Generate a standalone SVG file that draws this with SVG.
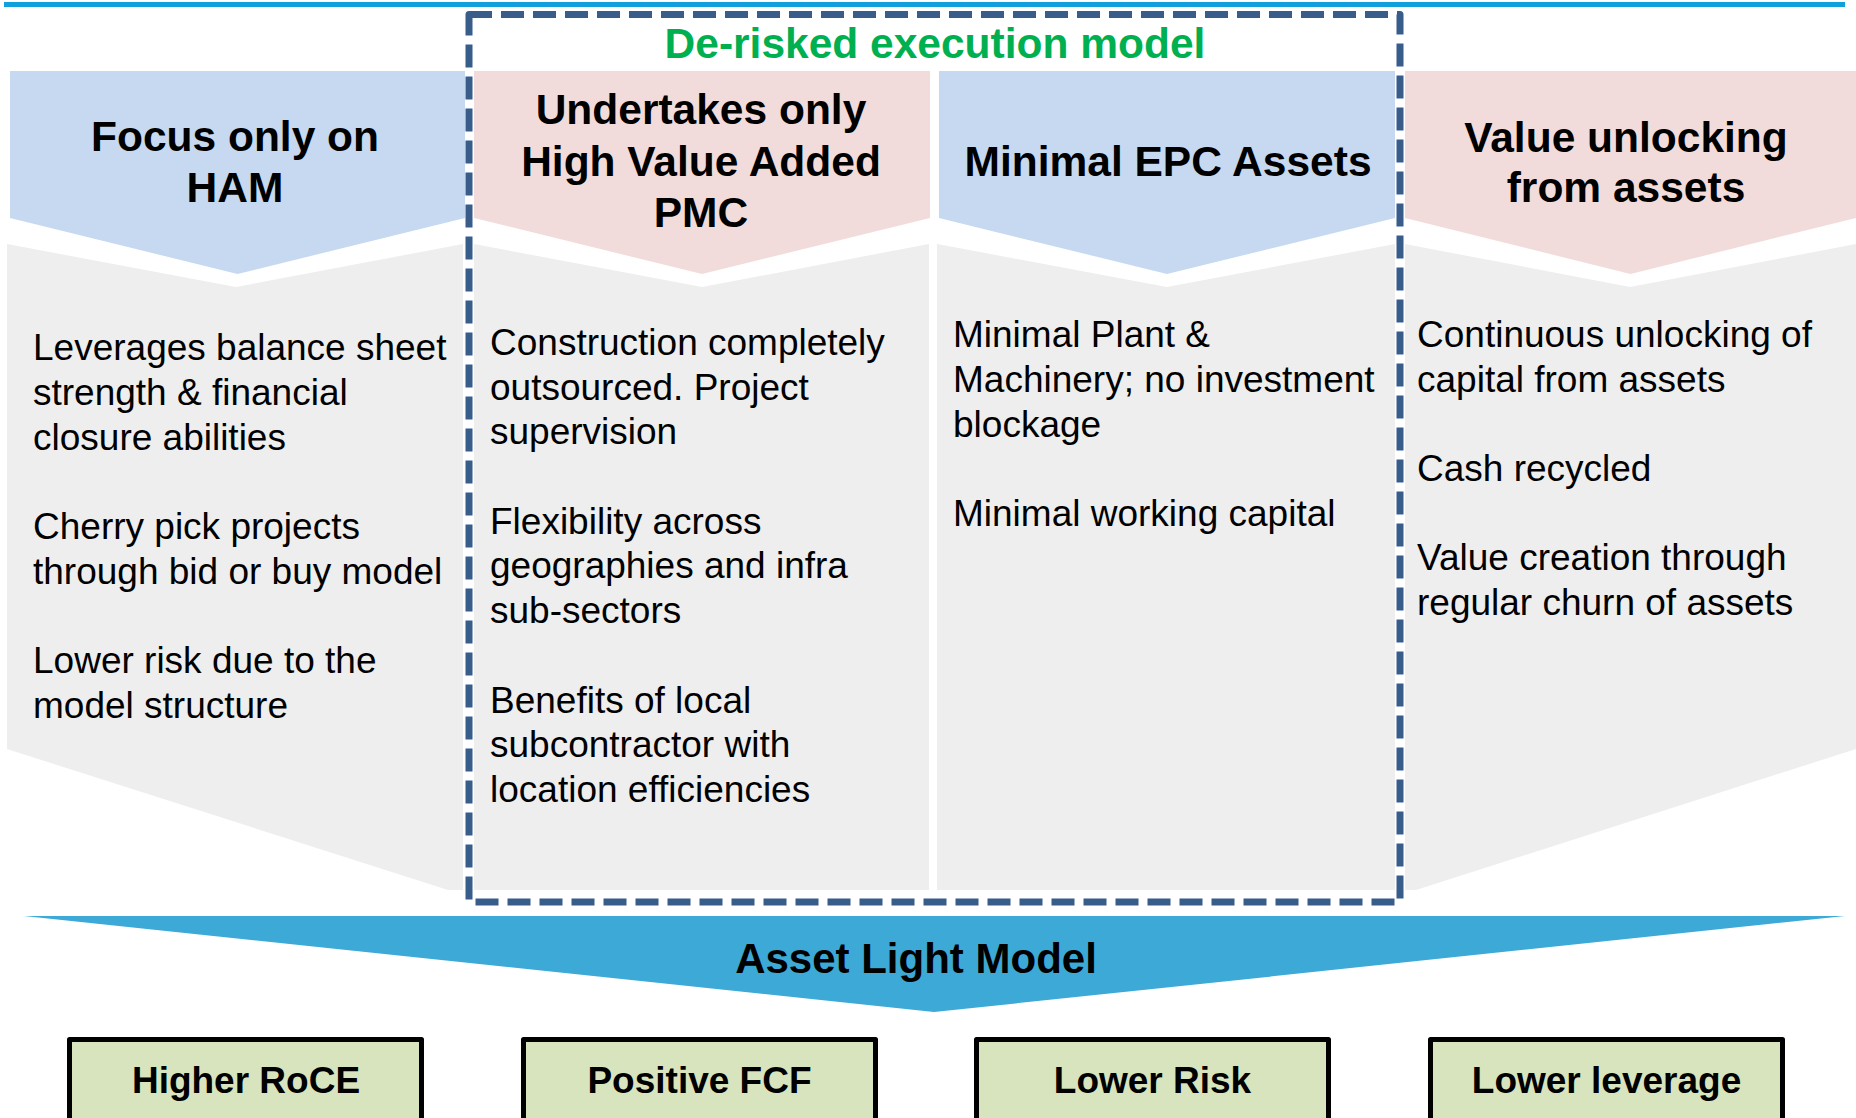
<svg xmlns="http://www.w3.org/2000/svg" width="1856" height="1118" viewBox="0 0 1856 1118">
<style>
.hd{font-family:"Liberation Sans",Arial,sans-serif;font-weight:bold;font-size:42.5px;fill:#000;text-anchor:middle}
.bd{font-family:"Liberation Sans",Arial,sans-serif;font-size:37px;fill:#000}
.bx{font-family:"Liberation Sans",Arial,sans-serif;font-weight:bold;font-size:37px;fill:#000;text-anchor:middle}
.blue{fill:#C6D9F1}
.pink{fill:#F2DCDB}
.gray{fill:#EEEEEE}
.res{fill:#D7E4BD;stroke:#000;stroke-width:5;stroke-linejoin:round}
</style>
<rect width="1856" height="1118" fill="#fff"/>
<line x1="4" y1="4.5" x2="1845" y2="4.5" stroke="#12A0DC" stroke-width="5"/>

<g id="col1">
<path class="gray" d="M7,244 L236,287 L463,244 V890 H448 L7,749 Z"/>
<path class="blue" d="M10,71 H465 V218 L237.5,274 L10,218 Z"/>
<text class="hd"><tspan x="235" y="151">Focus only on</tspan><tspan x="235" y="202">HAM</tspan></text>
<text class="bd"><tspan x="33" y="360">Leverages balance sheet</tspan><tspan x="33" y="405">strength &amp; financial</tspan><tspan x="33" y="449.5">closure abilities</tspan><tspan x="33" y="539">Cherry pick projects</tspan><tspan x="33" y="583.5">through bid or buy model</tspan><tspan x="33" y="673">Lower risk due to the</tspan><tspan x="33" y="718">model structure</tspan></text>
</g>

<g id="col2">
<path class="gray" d="M474,244 L702,287 L929,244 V890 H474 Z"/>
<path class="pink" d="M474,71 H930 V218 L702,274 L474,218 Z"/>
<text class="hd"><tspan x="701" y="124">Undertakes only</tspan><tspan x="701" y="176">High Value Added</tspan><tspan x="701" y="227">PMC</tspan></text>
<text class="bd"><tspan x="490" y="355">Construction completely</tspan><tspan x="490" y="399.5">outsourced. Project</tspan><tspan x="490" y="444">supervision</tspan><tspan x="490" y="533.5">Flexibility across</tspan><tspan x="490" y="578">geographies and infra</tspan><tspan x="490" y="623">sub-sectors</tspan><tspan x="490" y="712.5">Benefits of local</tspan><tspan x="490" y="757">subcontractor with</tspan><tspan x="490" y="802">location efficiencies</tspan></text>
</g>

<g id="col3">
<path class="gray" d="M937,244 L1167,287 L1395,244 V890 H937 Z"/>
<path class="blue" d="M939,71 H1395 V218 L1167,274 L939,218 Z"/>
<text class="hd" x="1168" y="176">Minimal EPC Assets</text>
<text class="bd"><tspan x="953" y="347">Minimal Plant &amp;</tspan><tspan x="953" y="392">Machinery; no investment</tspan><tspan x="953" y="437">blockage</tspan><tspan x="953" y="526">Minimal working capital</tspan></text>
</g>

<g id="col4">
<path class="gray" d="M1405,244 L1630,287 L1856,244 V749 L1416,890 H1405 Z"/>
<path class="pink" d="M1405,71 H1856 V218 L1630.5,274 L1405,218 Z"/>
<text class="hd"><tspan x="1626" y="152">Value unlocking</tspan><tspan x="1626" y="202">from assets</tspan></text>
<text class="bd"><tspan x="1417" y="347">Continuous unlocking of</tspan><tspan x="1417" y="392">capital from assets</tspan><tspan x="1417" y="481">Cash recycled</tspan><tspan x="1417" y="570">Value creation through</tspan><tspan x="1417" y="615">regular churn of assets</tspan></text>
</g>

<g id="derisked">
<rect x="469" y="14.5" width="931" height="887.5" fill="none" stroke="#385D8A" stroke-width="7" stroke-dasharray="23 9" stroke-linejoin="round"/>
<text x="935" y="58" style="font-family:'Liberation Sans',Arial,sans-serif;font-weight:bold;font-size:42.5px;fill:#00B050;text-anchor:middle">De-risked execution model</text>
</g>

<g id="asset-light">
<path d="M24,916 H1845 L934,1012 Z" fill="#3DA9D6"/>
<text x="916" y="973" style="font-family:'Liberation Sans',Arial,sans-serif;font-weight:bold;font-size:42px;fill:#000;text-anchor:middle">Asset Light Model</text>
</g>

<g id="connectors"></g>

<g id="box-roce"><rect class="res" x="69.5" y="1039.5" width="352" height="100"/><text class="bx" x="246" y="1093">Higher RoCE</text></g>
<g id="box-fcf"><rect class="res" x="523.5" y="1039.5" width="352" height="100"/><text class="bx" x="699.5" y="1093">Positive FCF</text></g>
<g id="box-risk"><rect class="res" x="976.5" y="1039.5" width="352" height="100"/><text class="bx" x="1152.5" y="1093">Lower Risk</text></g>
<g id="box-leverage"><rect class="res" x="1430.5" y="1039.5" width="352" height="100"/><text class="bx" x="1606.5" y="1093">Lower leverage</text></g>
</svg>
